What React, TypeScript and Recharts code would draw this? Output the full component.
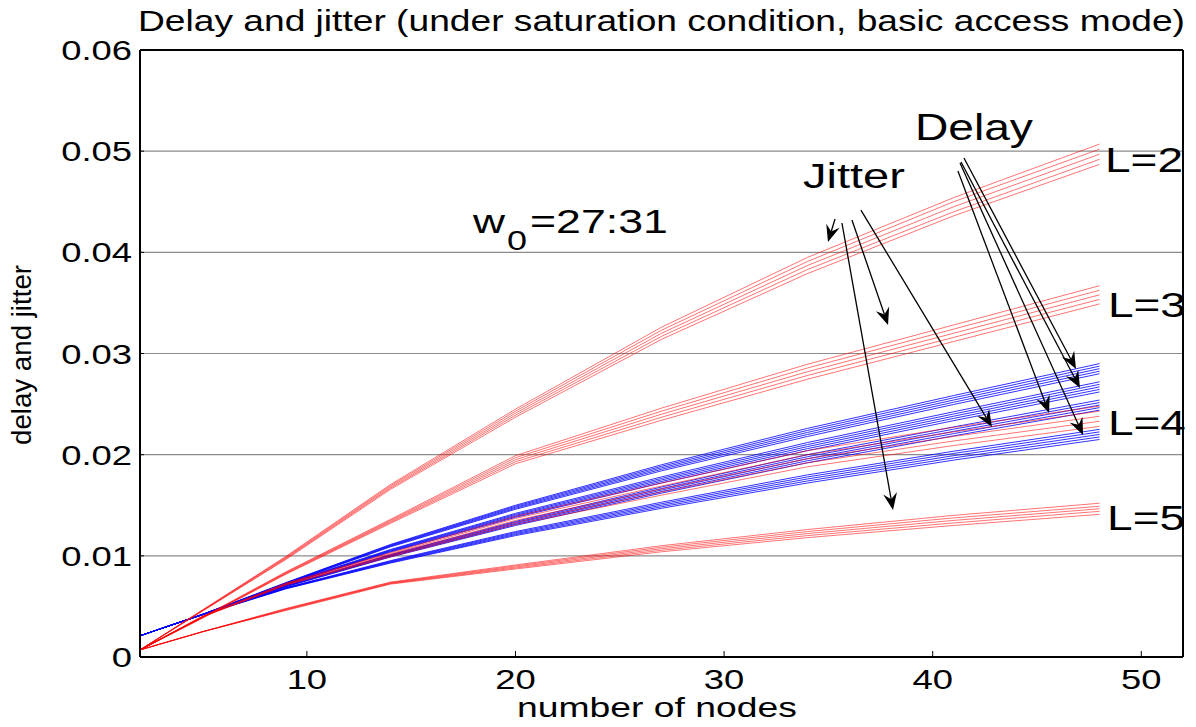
import React from 'react';
import { LineChart, Line, XAxis, YAxis, CartesianGrid, ReferenceLine, ReferenceDot } from 'recharts';

// number of nodes at which the curves were evaluated
const nodes = [2, 5, 9, 14, 20, 27, 34, 41, 48];

// Jitter curves (red), five curves (w0 = 27..31) per L
const jitterL2 = [
  [0.0007, 0.00466, 0.00996, 0.01704, 0.0245, 0.0326, 0.0395, 0.0454, 0.0507],
  [0.0007, 0.00463, 0.00988, 0.01692, 0.0243, 0.0323, 0.0391, 0.045, 0.0502],
  [0.0007, 0.0046, 0.0098, 0.0168, 0.0241, 0.032, 0.0387, 0.0445, 0.0497],
  [0.0007, 0.00457, 0.00972, 0.01668, 0.0239, 0.0317, 0.0383, 0.044, 0.0492],
  [0.0007, 0.00454, 0.00964, 0.01656, 0.0237, 0.0314, 0.0379, 0.0436, 0.0487],
];
const jitterL3 = [
  [0.0007, 0.00396, 0.00842, 0.0136, 0.0199, 0.0246, 0.02894, 0.03282, 0.0367],
  [0.0007, 0.00393, 0.00836, 0.0135, 0.0197, 0.0243, 0.02857, 0.03241, 0.03625],
  [0.0007, 0.0039, 0.0083, 0.0134, 0.0195, 0.024, 0.0282, 0.032, 0.0358],
  [0.0007, 0.00387, 0.00824, 0.0133, 0.0193, 0.0237, 0.02783, 0.03159, 0.03535],
  [0.0007, 0.00384, 0.00818, 0.0132, 0.0191, 0.0234, 0.02746, 0.03118, 0.0349],
];
const jitterL4 = [
  [0.0007, 0.00404, 0.0073, 0.0103, 0.0139, 0.0172, 0.0204, 0.0227, 0.0248],
  [0.0007, 0.00402, 0.00725, 0.0102, 0.0137, 0.0169, 0.02, 0.02225, 0.0243],
  [0.0007, 0.004, 0.0072, 0.0101, 0.0135, 0.0166, 0.0196, 0.0218, 0.0238],
  [0.0007, 0.00398, 0.00715, 0.01, 0.0133, 0.0163, 0.0192, 0.02135, 0.0233],
  [0.0007, 0.00396, 0.0071, 0.0099, 0.0131, 0.016, 0.0188, 0.0209, 0.0228],
];
const jitterL5 = [
  [0.0007, 0.0025, 0.0048, 0.0074, 0.0091, 0.011, 0.0126, 0.014, 0.0152],
  [0.0007, 0.0025, 0.00475, 0.00735, 0.009, 0.01085, 0.0124, 0.01375, 0.0149],
  [0.0007, 0.0025, 0.0047, 0.0073, 0.0089, 0.0107, 0.0122, 0.0135, 0.01465],
  [0.0007, 0.0025, 0.00465, 0.00725, 0.0088, 0.01055, 0.012, 0.01325, 0.0144],
  [0.0007, 0.0025, 0.0046, 0.0072, 0.0087, 0.0104, 0.0118, 0.013, 0.0141],
];

// Delay curves (blue)
const delayG1 = [
  [0.0021, 0.00422, 0.00736, 0.01112, 0.015, 0.019, 0.0226, 0.02584, 0.029],
  [0.0021, 0.00421, 0.00733, 0.01106, 0.0149, 0.01885, 0.0224, 0.02562, 0.02875],
  [0.0021, 0.0042, 0.0073, 0.011, 0.0148, 0.0187, 0.0222, 0.0254, 0.0285],
  [0.0021, 0.00419, 0.00727, 0.01094, 0.0147, 0.01855, 0.022, 0.02518, 0.02825],
  [0.0021, 0.00418, 0.00724, 0.01088, 0.0146, 0.0184, 0.0218, 0.02496, 0.028],
];
const delayG2 = [
  [0.0021, 0.00422, 0.00726, 0.01062, 0.0142, 0.0178, 0.0212, 0.02424, 0.0272],
  [0.0021, 0.00421, 0.00723, 0.01056, 0.0141, 0.01765, 0.021, 0.02402, 0.02695],
  [0.0021, 0.0042, 0.0072, 0.0105, 0.014, 0.0175, 0.0208, 0.0238, 0.0267],
  [0.0021, 0.00419, 0.00717, 0.01044, 0.0139, 0.01735, 0.0206, 0.02358, 0.02645],
  [0.0021, 0.00418, 0.00714, 0.01038, 0.0138, 0.0172, 0.0204, 0.02336, 0.0262],
];
const delayG3 = [
  [0.0021, 0.00422, 0.00706, 0.01012, 0.0134, 0.0168, 0.02, 0.02274, 0.0254],
  [0.0021, 0.00421, 0.00703, 0.01006, 0.0133, 0.01665, 0.0198, 0.02252, 0.02515],
  [0.0021, 0.0042, 0.007, 0.01, 0.0132, 0.0165, 0.0196, 0.0223, 0.0249],
  [0.0021, 0.00419, 0.00697, 0.00994, 0.0131, 0.01635, 0.0194, 0.02208, 0.02465],
  [0.0021, 0.00418, 0.00694, 0.00988, 0.013, 0.0162, 0.0192, 0.02186, 0.0244],
];
const delayG4 = [
  [0.0021, 0.00422, 0.00686, 0.00952, 0.0124, 0.0153, 0.018, 0.02034, 0.0225],
  [0.0021, 0.00421, 0.00683, 0.00946, 0.0123, 0.01515, 0.0178, 0.02012, 0.02225],
  [0.0021, 0.0042, 0.0068, 0.0094, 0.0122, 0.015, 0.0176, 0.0199, 0.022],
  [0.0021, 0.00419, 0.00677, 0.00934, 0.0121, 0.01485, 0.0174, 0.01968, 0.02175],
  [0.0021, 0.00418, 0.00674, 0.00928, 0.012, 0.0147, 0.0172, 0.01946, 0.0215],
];

const xTicks = [10, 20, 30, 40, 50];
const yTicks = [0, 0.01, 0.02, 0.03, 0.04, 0.05, 0.06];
const yTickLabels = ['0', '0.01', '0.02', '0.03', '0.04', '0.05', '0.06'];

const titleText = 'Delay and jitter (under saturation condition, basic access mode)';
const xLabel = 'number of nodes';
const yLabel = 'delay and jitter';

// annotation texts, anchored in data coordinates (left edge, baseline)
const curveLabels = [
  { text: 'L=2', n: 48.26, v: 0.04794 },
  { text: 'L=3', n: 48.4, v: 0.03361 },
  { text: 'L=4', n: 48.4, v: 0.02194 },
  { text: 'L=5', n: 48.36, v: 0.01255 },
];
const delayWord = { text: 'Delay', n: 39.15, v: 0.0511 };
const jitterWord = { text: 'Jitter', n: 33.78, v: 0.04636 };
const windowNote = { n: 17.96, v: 0.04191 };

// arrows: [start n, start v, end n, end v]
const jitterArrows = [
  [35.32, 0.04329, 34.98, 0.04102],
  [35.65, 0.0429, 38.1, 0.01453],
  [36.13, 0.04319, 37.86, 0.03282],
  [36.56, 0.04418, 42.84, 0.02273],
];
const delayArrows = [
  [41.21, 0.04804, 45.58, 0.02412],
  [41.31, 0.04883, 47.21, 0.02194],
  [41.36, 0.04893, 47.06, 0.02659],
  [41.5, 0.04932, 46.87, 0.02847],
];

const seriesList = [
  { key: 'delayG1', color: '#0000ff', lines: delayG1 },
  { key: 'delayG2', color: '#0000ff', lines: delayG2 },
  { key: 'delayG3', color: '#0000ff', lines: delayG3 },
  { key: 'delayG4', color: '#0000ff', lines: delayG4 },
  { key: 'jitterL2', color: '#ff0000', lines: jitterL2 },
  { key: 'jitterL3', color: '#ff0000', lines: jitterL3 },
  { key: 'jitterL4', color: '#ff0000', lines: jitterL4 },
  { key: 'jitterL5', color: '#ff0000', lines: jitterL5 },
];

const data = nodes.map((n, i) => {
  const row: Record<string, number> = { n };
  seriesList.forEach((s) => s.lines.forEach((arr, k) => { row[`${s.key}_${k}`] = arr[i]; }));
  return row;
});

const FONT = "'Liberation Sans', Arial, Helvetica, sans-serif";

const XTick = (props: any) => {
  const { x, y, payload } = props;
  return (
    <text transform={`translate(${x},${y + 32}) scale(1.3,1)`} textAnchor="middle" fontSize={28} fontFamily={FONT} fill="#000">
      {String(payload.value)}
    </text>
  );
};

const YTick = (props: any) => {
  const { x, y, payload } = props;
  const idx = yTicks.findIndex((t) => Math.abs(t - payload.value) < 1e-9);
  const label = idx >= 0 ? yTickLabels[idx] : String(payload.value);
  return (
    <text transform={`translate(${x - 8},${y + 10}) scale(1.3,1)`} textAnchor="end" fontSize={28} fontFamily={FONT} fill="#000">
      {label}
    </text>
  );
};

const arrowShape = (p: any) => {
  const { x1, y1, x2, y2 } = p;
  const dx = x2 - x1;
  const dy = y2 - y1;
  const len = Math.hypot(dx, dy) || 1;
  const ux = dx / len;
  const uy = dy / len;
  const px = -uy;
  const py = ux;
  const L = 17;
  const W = 7;
  const N = 11;
  const bx = x2 - ux * L;
  const by = y2 - uy * L;
  const nx = x2 - ux * N;
  const ny = y2 - uy * N;
  const pts = [
    [x2, y2],
    [bx + px * W, by + py * W],
    [nx, ny],
    [bx - px * W, by - py * W],
  ]
    .map((q) => `${q[0]},${q[1]}`)
    .join(' ');
  return (
    <g>
      <line x1={x1} y1={y1} x2={nx} y2={ny} stroke="#000" strokeWidth={1.3} />
      <polygon points={pts} fill="#000" />
    </g>
  );
};

const textShape = (text: string, size: number, length: number) => (p: any) => (
  <text x={p.cx} y={p.cy} fontSize={size} fontFamily={FONT} fill="#000" textLength={length} lengthAdjust="spacingAndGlyphs">
    {text}
  </text>
);

const windowShape = (p: any) => (
  <g fontFamily={FONT} fill="#000">
    <text x={p.cx} y={p.cy} fontSize={34} textLength={32} lengthAdjust="spacingAndGlyphs">w</text>
    <text x={p.cx + 34} y={p.cy + 17} fontSize={27} textLength={20} lengthAdjust="spacingAndGlyphs">0</text>
    <text x={p.cx + 57} y={p.cy} fontSize={34} textLength={138} lengthAdjust="spacingAndGlyphs">=27:31</text>
  </g>
);

export default function App() {
  return (
    <div style={{ position: 'absolute', left: 0, top: 0, width: 1196, height: 727 }}>
      <LineChart width={1196} height={727} data={data} margin={{ top: 49, right: 12, bottom: 10, left: 40 }}>
        <CartesianGrid vertical={false} horizontal={true} stroke="#8c8c8c" strokeWidth={1.2} />
        <XAxis
          dataKey="n"
          type="number"
          domain={[2, 52]}
          ticks={xTicks}
          allowDataOverflow
          height={60}
          axisLine={{ stroke: '#000', strokeWidth: 2 }}
          tickLine={{ stroke: '#000', strokeWidth: 1 }}
          tickSize={-6}
          tickMargin={6}
          tick={<XTick />}
        />
        <XAxis
          xAxisId="top"
          orientation="top"
          dataKey="n"
          type="number"
          domain={[2, 52]}
          ticks={xTicks}
          allowDataOverflow
          height={1}
          axisLine={{ stroke: '#000', strokeWidth: 2 }}
          tickLine={{ stroke: '#000', strokeWidth: 1 }}
          tickSize={-6}
          tick={false}
        />
        <YAxis
          type="number"
          domain={[0, 0.06]}
          ticks={yTicks}
          allowDataOverflow
          width={100}
          axisLine={{ stroke: '#000', strokeWidth: 2 }}
          tickLine={{ stroke: '#000', strokeWidth: 1 }}
          tickSize={-4}
          tickMargin={4}
          tick={<YTick />}
        />
        <YAxis
          yAxisId="right"
          orientation="right"
          type="number"
          domain={[0, 0.06]}
          ticks={yTicks}
          allowDataOverflow
          width={1}
          axisLine={{ stroke: '#000', strokeWidth: 2 }}
          tickLine={{ stroke: '#000', strokeWidth: 1 }}
          tickSize={-5}
          tick={false}
        />
        {seriesList.map((s) =>
          s.lines.map((_, k) => (
            <Line
              key={`${s.key}_${k}`}
              dataKey={`${s.key}_${k}`}
              type="linear"
              stroke={s.color}
              strokeWidth={1}
              strokeOpacity={s.color === '#ff0000' ? 0.55 : 0.8}
              dot={false}
              activeDot={false}
              isAnimationActive={false}
            />
          ))
        )}
        {[...jitterArrows, ...delayArrows].map((a, i) => (
          <ReferenceLine
            key={`arrow-${i}`}
            segment={[{ x: a[0], y: a[1] }, { x: a[2], y: a[3] }]}
            ifOverflow="visible"
            shape={arrowShape}
          />
        ))}
        {curveLabels.map((c) => (
          <ReferenceDot key={c.text} x={c.n} y={c.v} r={0} ifOverflow="visible" shape={textShape(c.text, 35, 78)} />
        ))}
        <ReferenceDot x={delayWord.n} y={delayWord.v} r={0} ifOverflow="visible" shape={textShape(delayWord.text, 37, 118)} />
        <ReferenceDot x={jitterWord.n} y={jitterWord.v} r={0} ifOverflow="visible" shape={textShape(jitterWord.text, 35, 102)} />
        <ReferenceDot x={windowNote.n} y={windowNote.v} r={0} ifOverflow="visible" shape={windowShape} />
        <text x={138} y={31} fontSize={29} fontFamily={FONT} fill="#000" textLength={1047} lengthAdjust="spacingAndGlyphs">
          {titleText}
        </text>
        <text x={657} y={717} fontSize={28} fontFamily={FONT} fill="#000" textAnchor="middle" textLength={280} lengthAdjust="spacingAndGlyphs">
          {xLabel}
        </text>
        <text
          transform="translate(31,355) rotate(-90)"
          fontSize={27}
          fontFamily={FONT}
          fill="#000"
          textAnchor="middle"
          textLength={180}
          lengthAdjust="spacingAndGlyphs"
        >
          {yLabel}
        </text>
      </LineChart>
    </div>
  );
}
